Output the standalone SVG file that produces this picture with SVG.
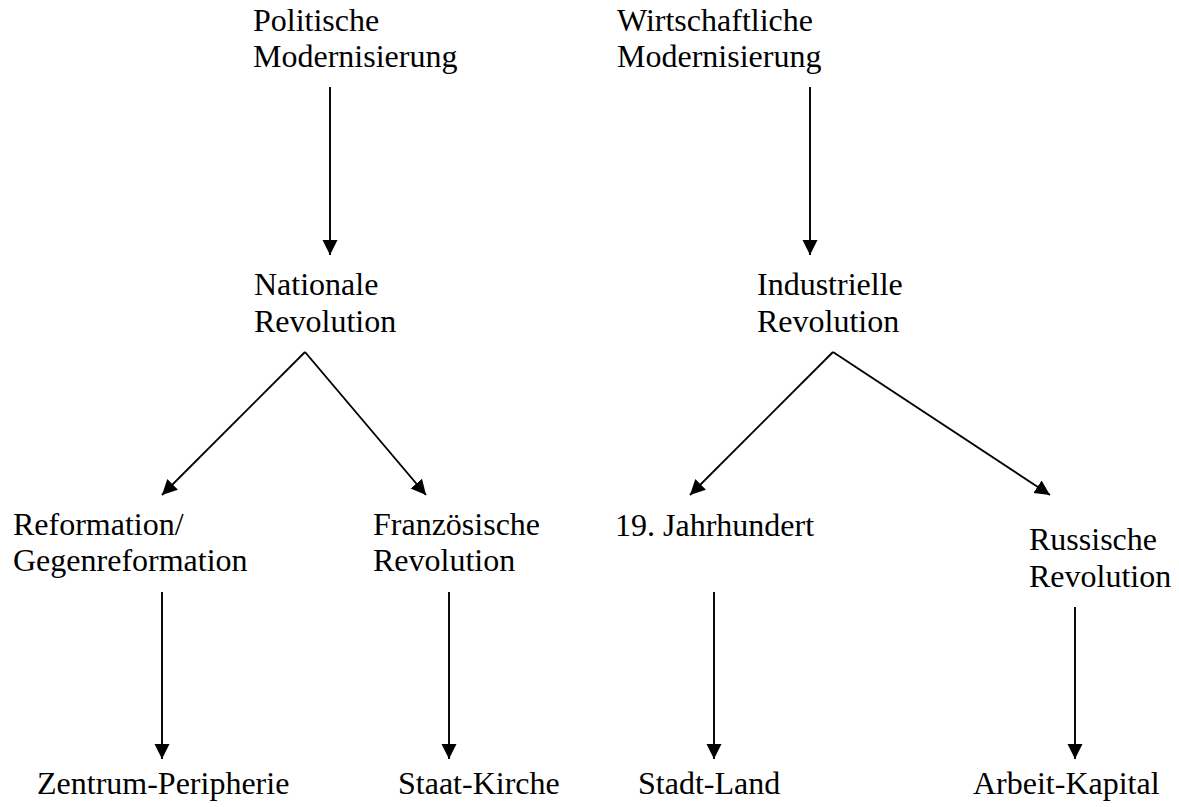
<svg xmlns="http://www.w3.org/2000/svg" width="1179" height="807" viewBox="0 0 1179 807">
<defs>
<marker id="ah" markerUnits="userSpaceOnUse" markerWidth="16" markerHeight="16" viewBox="0 0 16 16" refX="15" refY="8" orient="auto">
<path d="M0,0.5 L15,8 L0,15.5 Z" fill="#000"/>
</marker>
<style>
text{font-family:"Liberation Serif","Times New Roman",serif;font-size:32px;fill:#000}
.c line{stroke:#000;stroke-width:1.9;marker-end:url(#ah)}
</style>
</defs>
<rect width="1179" height="807" fill="#fff"/>
<g id="politische"><text x="253" y="31">Politische</text><text x="253" y="67">Modernisierung</text></g>
<g id="wirtschaftliche"><text x="617" y="31">Wirtschaftliche</text><text x="617" y="67">Modernisierung</text></g>
<g id="nationale"><text x="254" y="295">Nationale</text><text x="254" y="332">Revolution</text></g>
<g id="industrielle"><text x="757" y="295">Industrielle</text><text x="757" y="332">Revolution</text></g>
<g id="reformation"><text x="13" y="535">Reformation/</text><text x="13" y="571">Gegenreformation</text></g>
<g id="franzoesische"><text x="373" y="535">Französische</text><text x="373" y="571">Revolution</text></g>
<g id="jahrhundert"><text x="615" y="536">19. Jahrhundert</text></g>
<g id="russische"><text x="1029" y="550">Russische</text><text x="1029" y="587">Revolution</text></g>
<g id="zentrum"><text x="37" y="794">Zentrum-Peripherie</text></g>
<g id="staat"><text x="398" y="794">Staat-Kirche</text></g>
<g id="stadt"><text x="638" y="794">Stadt-Land</text></g>
<g id="arbeit"><text x="973" y="794">Arbeit-Kapital</text></g>
<g id="connectors" class="c">
<line x1="330" y1="87" x2="330" y2="255"/>
<line x1="810" y1="87" x2="810" y2="255"/>
<line x1="305" y1="352" x2="162" y2="495"/>
<line x1="305" y1="352" x2="426" y2="495"/>
<line x1="833" y1="352" x2="690" y2="495"/>
<line x1="833" y1="352" x2="1050" y2="495"/>
<line x1="162" y1="592" x2="162" y2="759"/>
<line x1="449" y1="592" x2="449" y2="759"/>
<line x1="714" y1="592" x2="714" y2="759"/>
<line x1="1075" y1="607" x2="1075" y2="759"/>
</g>
</svg>
